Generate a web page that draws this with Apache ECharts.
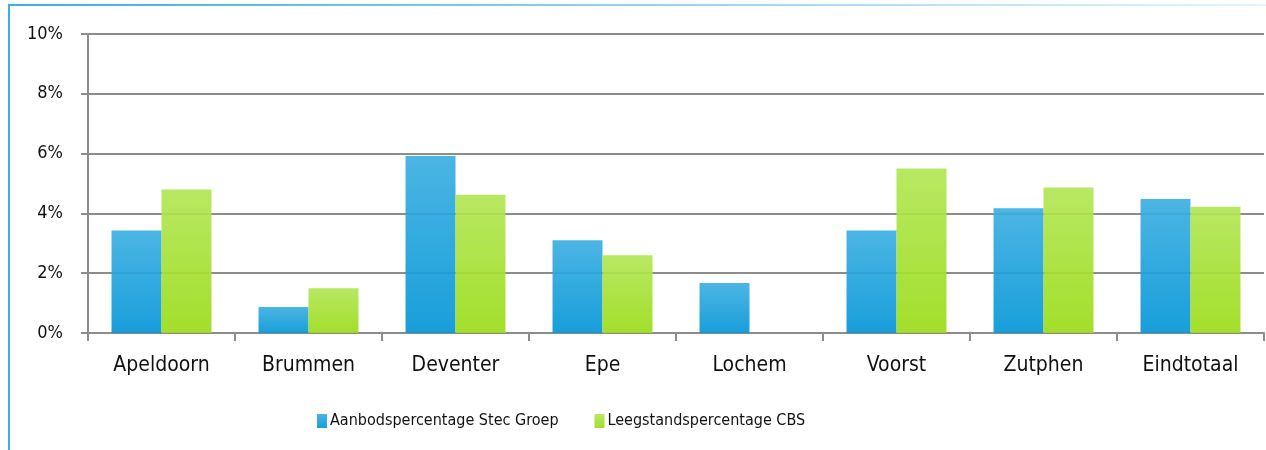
<!DOCTYPE html>
<html>
<head>
<meta charset="utf-8">
<script src="https://cdn.jsdelivr.net/npm/echarts@6/dist/echarts.min.js"></script>
<style>
  html, body { margin: 0; padding: 0; background: #fff; }
  #chart { width: 1266px; height: 450px; }
</style>
</head>
<body>
<div id="chart"></div>
<script>
var categories = ['Apeldoorn', 'Brummen', 'Deventer', 'Epe', 'Lochem', 'Voorst', 'Zutphen', 'Eindtotaal'];
var seriesNames = ['Aanbodspercentage Stec Groep', 'Leegstandspercentage CBS'];
var stecValues = [3.43, 0.87, 5.92, 3.1, 1.67, 3.43, 4.17, 4.48];
var cbsValues = [4.8, 1.5, 4.62, 2.6, 0, 5.5, 4.87, 4.22];

var font = "'DejaVu Sans Condensed', 'Liberation Sans Narrow', sans-serif";

var blueFill = new echarts.graphic.LinearGradient(0, 0, 0, 1, [
  { offset: 0, color: 'rgba(60, 175, 225, 0.92)' },
  { offset: 1, color: 'rgba(5, 150, 215, 0.92)' }
]);
var greenFill = new echarts.graphic.LinearGradient(0, 0, 0, 1, [
  { offset: 0, color: 'rgba(178, 230, 85, 0.92)' },
  { offset: 1, color: 'rgba(155, 220, 25, 0.92)' }
]);

var chart = echarts.init(document.getElementById('chart'));
chart.setOption({
  animation: false,
  textStyle: { fontFamily: font },
  graphic: [
    {
      type: 'rect',
      shape: { x: 8, y: 4, width: 2, height: 446 },
      style: { fill: '#3cb0e4' }
    },
    {
      type: 'rect',
      shape: { x: 8, y: 4, width: 1258, height: 2 },
      style: {
        fill: new echarts.graphic.LinearGradient(0, 0, 1, 0, [
          { offset: 0, color: '#3cb0e4' },
          { offset: 1, color: '#e6f4fb' }
        ])
      }
    }
  ],
  grid: { left: 88, right: 2, top: 34, bottom: 117, containLabel: false },
  legend: {
    data: seriesNames,
    bottom: 16,
    left: 312,
    itemWidth: 10,
    itemHeight: 14,
    itemGap: 36,
    icon: 'rect',
    textStyle: { fontSize: 16, color: '#111', fontFamily: font, padding: [0, 0, 0, -2] }
  },
  xAxis: {
    type: 'category',
    data: categories,
    axisLine: { lineStyle: { color: '#8c8c8c', width: 2 } },
    axisTick: { show: true, length: 8, lineStyle: { color: '#8c8c8c', width: 2 } },
    axisLabel: { fontSize: 21, color: '#111', margin: 22, fontFamily: font }
  },
  yAxis: {
    type: 'value',
    min: 0,
    max: 10,
    interval: 2,
    axisLine: { show: true, lineStyle: { color: '#8c8c8c', width: 2 } },
    axisTick: { show: true, length: 7, lineStyle: { color: '#8c8c8c', width: 2 } },
    splitLine: { lineStyle: { color: '#8c8c8c', width: 2 } },
    axisLabel: { fontSize: 18, color: '#111', margin: 25, fontFamily: font, formatter: '{value}%' }
  },
  series: [
    {
      name: seriesNames[0],
      type: 'bar',
      data: stecValues,
      barGap: '0%',
      barCategoryGap: '32%',
      itemStyle: { color: blueFill }
    },
    {
      name: seriesNames[1],
      type: 'bar',
      data: cbsValues,
      itemStyle: { color: greenFill }
    }
  ]
});
</script>
</body>
</html>
